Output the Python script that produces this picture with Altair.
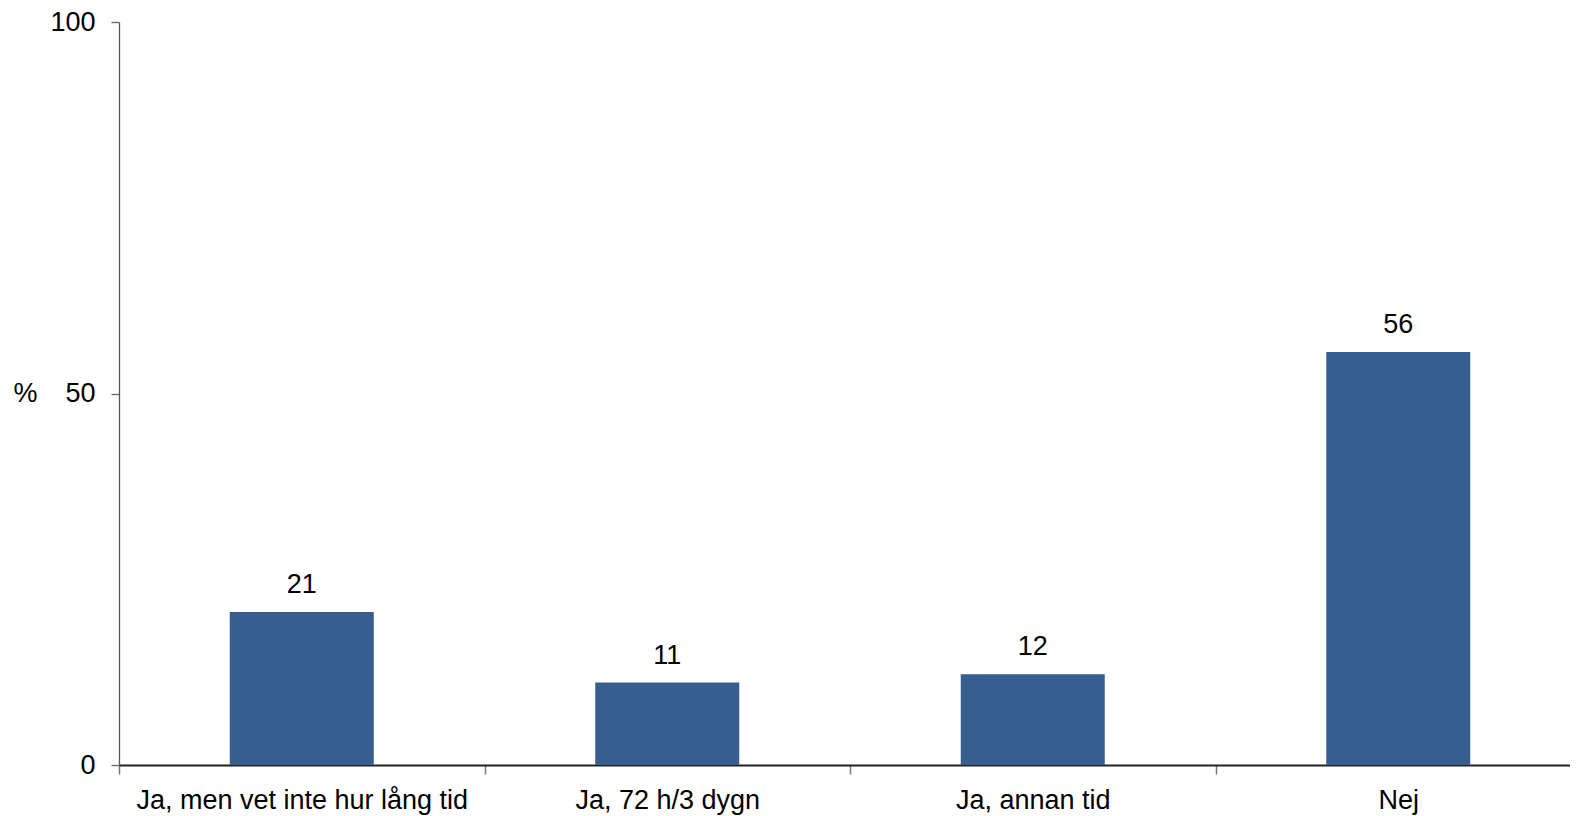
import altair as alt
import pandas as pd

categories = ["Ja, men vet inte hur lång tid", "Ja, 72 h/3 dygn", "Ja, annan tid", "Nej"]
values = [20.6, 11.1, 12.2, 55.6]
labels = ["21", "11", "12", "56"]
y_ticks = [0, 50, 100]

df = pd.DataFrame({"cat": categories, "val": values, "lab": labels})

FONT = "Liberation Sans"
BAR_COLOR = "#365F8F"

base = alt.Chart(df).encode(
    x=alt.X(
        "cat:N",
        sort=categories,
        title=None,
        scale=alt.Scale(range=[0, 1462], paddingInner=0, paddingOuter=0),
        axis=alt.Axis(
            labelAngle=0,
            tickBand="extent",
            ticks=True,
            tickSize=9,
            tickColor="#777777",
            tickWidth=1.5,
            domainColor="#222222",
            domainWidth=2,
            labelPadding=13,
            labelFontSize=27,
            labelFont=FONT,
            labelColor="#000000",
            labelLimit=0,
            grid=False,
        ),
    ),
    y=alt.Y(
        "val:Q",
        scale=alt.Scale(domain=[0, 100], nice=False),
        axis=alt.Axis(
            values=y_ticks,
            title="%",
            titleAngle=0,
            titleAlign="left",
            titleBaseline="middle",
            titleX=-106,
            titleY=371,
            titleFontSize=27,
            titleFontWeight="normal",
            titleFont=FONT,
            titleColor="#000000",
            labelFontSize=27,
            labelFont=FONT,
            labelColor="#000000",
            labelPadding=16,
            tickSize=8,
            tickColor="#666666",
            tickWidth=1.3,
            domainColor="#555555",
            domainWidth=1.3,
            grid=False,
        ),
    ),
)

bars = base.mark_bar(color=BAR_COLOR, width=alt.RelativeBandSize(0.394))
text = base.mark_text(
    baseline="alphabetic", dy=-19, fontSize=27, font=FONT, color="#000000"
).encode(text="lab:N")

chart = (
    alt.layer(bars, text)
    .properties(
        width=1451,
        height=743,
        background="white",
        autosize=alt.AutoSizeParams(type="none"),
        padding={"left": 111, "top": 14, "right": 0, "bottom": 51},
    )
    .configure_view(strokeWidth=0, stroke="transparent")
)

chart.save("out.html", embed_options={"renderer": "svg", "actions": False})
